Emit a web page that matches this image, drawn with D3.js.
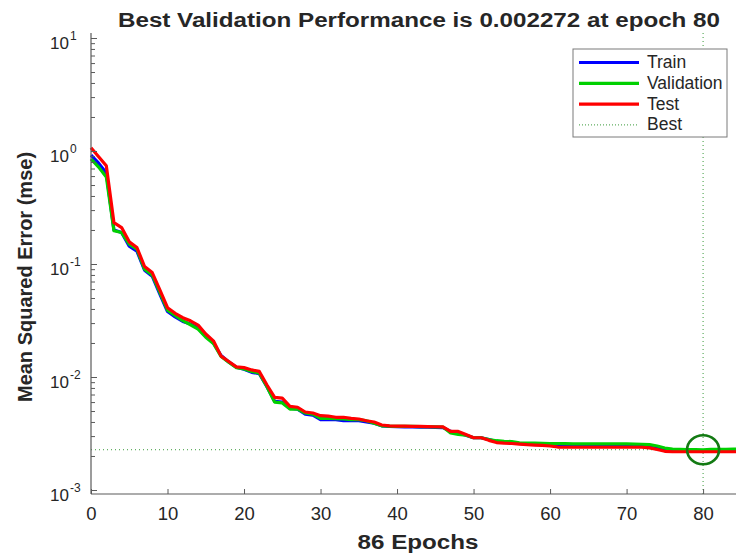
<!DOCTYPE html>
<head>
    <meta charset="utf-8">
    <script src="https://d3js.org/d3.v7.min.js"></script>
    <style>
        body { margin:0; background:#fff; }
        text { font-family: "Liberation Sans", Arial, sans-serif; fill:#262626; }
    </style>
</head>
<body>
<script>
    // values, epochs 0..86
    var test = [1.07, 0.89, 0.74, 0.232, 0.21, 0.157, 0.14, 0.095, 0.084, 0.059,
        0.041, 0.0366, 0.0335, 0.0314, 0.0288, 0.024, 0.0209, 0.0153, 0.0137, 0.0123,
        0.0121, 0.01155, 0.0112, 0.0085, 0.0066, 0.0065, 0.0055, 0.0054, 0.0049, 0.0048,
        0.00455, 0.0045, 0.0044, 0.0044, 0.0043, 0.00425, 0.0041, 0.0040, 0.00376, 0.0037,
        0.00368, 0.00367, 0.00366, 0.00365, 0.00364, 0.00363, 0.00362, 0.0033, 0.0033, 0.0031,
        0.0029, 0.0029, 0.00275, 0.00263, 0.0026, 0.00258, 0.00255, 0.00252, 0.0025, 0.00248,
        0.00245, 0.0024, 0.00239, 0.00239, 0.00239, 0.00239, 0.00239, 0.00239, 0.00239, 0.00239,
        0.00239, 0.00239, 0.00239, 0.00236, 0.00228, 0.0022, 0.00218, 0.00218, 0.00218, 0.00218,
        0.00218, 0.00218, 0.00218, 0.00218, 0.00218, 0.00218, 0.00218];
    var validation = [0.85, 0.72, 0.59, 0.197, 0.19, 0.15, 0.135, 0.09, 0.08, 0.056,
        0.039, 0.035, 0.0315, 0.029, 0.0265, 0.0225, 0.0198, 0.0152, 0.0135, 0.0121,
        0.0118, 0.0112, 0.0108, 0.0082, 0.006, 0.0059, 0.0052, 0.0052, 0.0048, 0.0047,
        0.0043, 0.0043, 0.00428, 0.00425, 0.0042, 0.0042, 0.0041, 0.0039, 0.0037, 0.00367,
        0.00366, 0.00365, 0.00365, 0.00364, 0.00363, 0.00362, 0.00361, 0.0032, 0.0031, 0.00305,
        0.0029, 0.0029, 0.0028, 0.00273, 0.0027, 0.00268, 0.00262, 0.0026, 0.0026, 0.00259,
        0.00258, 0.00258, 0.00257, 0.00256, 0.00256, 0.00256, 0.00256, 0.00256, 0.00256, 0.00256,
        0.00256, 0.00255, 0.00254, 0.00252, 0.00245, 0.00235, 0.0023, 0.00229, 0.00228, 0.002275,
        0.002272, 0.00229, 0.00229, 0.00229, 0.0023, 0.0023, 0.0023];
    var train = [0.92, 0.78, 0.64, 0.2, 0.19, 0.144, 0.13, 0.088, 0.078, 0.054,
        0.038, 0.034, 0.031, 0.0295, 0.027, 0.023, 0.020, 0.0155, 0.0136, 0.0122,
        0.0117, 0.011, 0.0107, 0.0082, 0.0061, 0.006, 0.0053, 0.0052, 0.0047, 0.0046,
        0.0042, 0.0042, 0.0042, 0.0041, 0.0041, 0.0041, 0.0040, 0.0039, 0.0037, 0.00365,
        0.00363, 0.00362, 0.00361, 0.0036, 0.0036, 0.00358, 0.00356, 0.0033, 0.0032, 0.00305,
        0.0029, 0.0029, 0.0028, 0.00268, 0.00265, 0.00262, 0.00258, 0.00255, 0.00253, 0.00252,
        0.0025, 0.00248, 0.00246, 0.00246, 0.00245, 0.00245, 0.00245, 0.00245, 0.00245, 0.00245,
        0.00245, 0.00244, 0.00243, 0.0024, 0.00234, 0.00226, 0.00223, 0.00222, 0.00222, 0.00222,
        0.00222, 0.00222, 0.00222, 0.00222, 0.00222, 0.00222, 0.00222];
    var bestEpoch = 80, bestValue = 0.002272;
    var xTicks = [0, 10, 20, 30, 40, 50, 60, 70, 80];
    var yDecades = [-3, -2, -1, 0, 1];
    var legendNames = ["Train", "Validation", "Test", "Best"];

    var width = 736, height = 556;
    var svg = d3.select("body").append("svg")
        .attr("width", width)
        .attr("height", height);

    var x = d3.scaleLinear().domain([0, 86]).range([91, 749]);
    var y = d3.scaleLog().domain([1e-3, 1e1]).range([490, 38]);
    var plotTop = 33, plotBottom = 494;

    var plot = svg.append("g");

    // best markers (dotted)
    plot.append("line")
        .attr("x1", x(bestEpoch)).attr("x2", x(bestEpoch))
        .attr("y1", plotTop).attr("y2", plotBottom)
        .attr("stroke", "#3a9a3a").attr("stroke-width", 1)
        .attr("stroke-dasharray", "1,3");
    plot.append("line")
        .attr("x1", x(0)).attr("x2", width)
        .attr("y1", y(bestValue)).attr("y2", y(bestValue))
        .attr("stroke", "#3a9a3a").attr("stroke-width", 1)
        .attr("stroke-dasharray", "1,3");

    var line = d3.line()
        .x(function(d, i) { return x(i); })
        .y(function(d) { return y(d); });

    var series = [[train, "#0000ff"], [validation, "#00d000"], [test, "#ff0000"]];
    series.forEach(function(s) {
        plot.append("path")
            .attr("d", line(s[0]))
            .attr("fill", "none")
            .attr("stroke", s[1])
            .attr("stroke-width", 3.2)
            .attr("stroke-linejoin", "round");
    });

    // circle around best validation point
    plot.append("ellipse")
        .attr("cx", x(bestEpoch)).attr("cy", y(bestValue))
        .attr("rx", 16).attr("ry", 14.5)
        .attr("fill", "none")
        .attr("stroke", "#137a13")
        .attr("stroke-width", 2.6);

    // axes lines
    var axisColor = "#5a5a5a";
    plot.append("line").attr("x1", x(0)).attr("x2", width)
        .attr("y1", plotBottom).attr("y2", plotBottom)
        .attr("stroke", axisColor).attr("stroke-width", 1.2);
    plot.append("line").attr("x1", x(0)).attr("x2", x(0))
        .attr("y1", plotTop).attr("y2", plotBottom)
        .attr("stroke", axisColor).attr("stroke-width", 1.2);

    // x ticks (inward)
    var xAxis = svg.append("g").attr("transform", "translate(0," + plotBottom + ")")
        .call(d3.axisBottom(x).tickValues(xTicks).tickSizeInner(-5).tickSizeOuter(0).tickPadding(13));
    xAxis.select(".domain").remove();
    xAxis.selectAll("line").attr("stroke", axisColor);
    xAxis.selectAll("text").attr("font-size", 18.5).attr("fill", "#262626")
        .style("font-family", "'Liberation Sans', Arial, sans-serif");

    // y ticks (inward, with minor log ticks)
    var minor = [];
    yDecades.forEach(function(e) {
        for (var m = 1; m < 10; m++) {
            var v = m * Math.pow(10, e);
            if (v <= 10) minor.push(v);
        }
    });
    var yAxis = svg.append("g").attr("transform", "translate(" + x(0) + ",0)")
        .call(d3.axisLeft(y).tickValues(minor).tickFormat("").tickSizeInner(-4).tickSizeOuter(0));
    yAxis.select(".domain").remove();
    yAxis.selectAll(".tick line").attr("stroke", axisColor)
        .attr("x2", function(d) { return Math.abs(Math.log10(d) - Math.round(Math.log10(d))) < 1e-9 ? 6 : 4; });

    yDecades.forEach(function(e) {
        svg.append("text")
            .attr("x", 69).attr("y", y(Math.pow(10, e)) + 10.5)
            .attr("text-anchor", "end")
            .attr("font-size", 17)
            .text("10");
        svg.append("text")
            .attr("x", 70).attr("y", y(Math.pow(10, e)) + 2)
            .attr("font-size", 12)
            .text(e);
    });

    // title and labels
    svg.append("text")
        .attr("x", 419).attr("y", 27)
        .attr("text-anchor", "middle")
        .attr("font-size", 20).attr("font-weight", "bold")
        .attr("textLength", 602).attr("lengthAdjust", "spacingAndGlyphs")
        .text("Best Validation Performance is " + bestValue + " at epoch " + bestEpoch);
    svg.append("text")
        .attr("x", 418).attr("y", 549)
        .attr("text-anchor", "middle")
        .attr("font-size", 20).attr("font-weight", "bold")
        .attr("textLength", 121).attr("lengthAdjust", "spacingAndGlyphs")
        .text("86 Epochs");
    svg.append("text")
        .attr("transform", "translate(32,277) rotate(-90)")
        .attr("text-anchor", "middle")
        .attr("font-size", 20).attr("font-weight", "bold")
        .text("Mean Squared Error  (mse)");

    // legend
    var lg = svg.append("g").attr("transform", "translate(573,49)");
    lg.append("rect").attr("width", 154).attr("height", 88)
        .attr("fill", "#fff").attr("stroke", "#7a7a7a").attr("stroke-width", 1);
    var legendStyle = [["#0000ff", 3.2, null], ["#00d000", 3.2, null], ["#ff0000", 3.2, null], ["#3a9a3a", 1, "1,2"]];
    legendNames.forEach(function(name, i) {
        var yy = 13.5 + i * 20.8;
        lg.append("line").attr("x1", 6).attr("x2", 66).attr("y1", yy).attr("y2", yy)
            .attr("stroke", legendStyle[i][0]).attr("stroke-width", legendStyle[i][1])
            .attr("stroke-dasharray", legendStyle[i][2]);
        lg.append("text").attr("x", 74).attr("y", yy + 5.5)
            .attr("font-size", 17.5).text(name);
    });
</script>
</body>
